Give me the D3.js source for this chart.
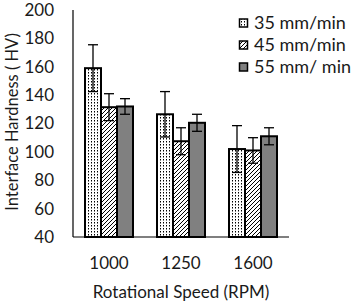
<!DOCTYPE html>
<html><head><meta charset="utf-8">
<script src="https://cdn.jsdelivr.net/npm/d3@7"></script>
<style>body{margin:0;background:#fff}svg{display:block}text{font-family:Lato,"Open Sans",sans-serif;fill:#1a1a1a}</style>
</head><body><svg id="c" width="355" height="306"></svg>
<script>
const categories = ["1000","1250","1600"];
const series = ["35 mm/min","45 mm/min","55 mm/ min"];
const values35 = [159, 126.5, 102];
const values45 = [131.5, 107.5, 101];
const values55 = [132, 120.5, 111];
const err35 = [16.5, 16, 16.5];
const err45 = [9.5, 9.5, 9];
const err55 = [5.5, 6, 6];
const yTicks = [40,60,80,100,120,140,160,180,200];

const svg = d3.select("#c");
const defs = svg.append("defs");
const p1 = defs.append("pattern").attr("id","dots").attr("patternUnits","userSpaceOnUse").attr("width",3).attr("height",3);
p1.append("rect").attr("width",3).attr("height",3).attr("fill","#fff");
p1.append("rect").attr("x",1).attr("y",0).attr("width",1).attr("height",1.5).attr("fill","#000");
const p2 = defs.append("pattern").attr("id","hatch").attr("patternUnits","userSpaceOnUse").attr("width",4).attr("height",4);
p2.append("rect").attr("width",4).attr("height",4).attr("fill","#fff");
p2.append("path").attr("d","M-1,1 L1,-1 M0,4 L4,0 M3,5 L5,3").attr("stroke","#000").attr("stroke-width",1);
const fills = ["url(#dots)","url(#hatch)","#808080"];

const y = d3.scaleLinear().domain([40,200]).range([237,10]);
const x0 = d3.scaleBand().domain(categories).range([73,289]).padding(0);
const x1 = d3.scaleBand().domain(series).range([0,x0.bandwidth()]).paddingInner(0).paddingOuter(0.75);

const vals = [values35, values45, values55];
const errs = [err35, err45, err55];
const data = [];
categories.forEach((c,i)=>series.forEach((s,j)=>data.push({c,s,j,v:vals[j][i],e:errs[j][i]})));

svg.selectAll("rect.bar").data(data).enter().append("rect").attr("class","bar")
  .attr("x",d=>x0(d.c)+x1(d.s)).attr("width",x1.bandwidth())
  .attr("y",d=>y(d.v)).attr("height",d=>y(40)-y(d.v))
  .attr("fill",d=>fills[d.j]).attr("stroke","#000").attr("stroke-width",2);

const eg = svg.append("g").attr("stroke","#000").attr("stroke-width",1.3);
data.forEach(d=>{
  const cx = x0(d.c)+x1(d.s)+x1.bandwidth()/2;
  eg.append("line").attr("x1",cx).attr("x2",cx).attr("y1",y(d.v+d.e)).attr("y2",y(d.v-d.e));
  [d.v+d.e,d.v-d.e].forEach(t=>eg.append("line").attr("x1",cx-5).attr("x2",cx+5).attr("y1",y(t)).attr("y2",y(t)));
});

// axes
svg.append("line").attr("x1",73).attr("x2",73).attr("y1",10).attr("y2",237).attr("stroke","#000").attr("stroke-width",1.2);
svg.append("line").attr("x1",73).attr("x2",289).attr("y1",237).attr("y2",237).attr("stroke","#000").attr("stroke-width",1.2);

svg.selectAll("text.yt").data(yTicks).enter().append("text").attr("class","yt")
  .attr("x",54).attr("y",d=>y(d)).attr("dy","0.35em").attr("text-anchor","end")
  .style("font-size","17px").text(d=>d);
svg.selectAll("text.xt").data(categories).enter().append("text").attr("class","xt")
  .attr("x",d=>x0(d)+x0.bandwidth()/2).attr("y",269).attr("text-anchor","middle")
  .style("font-size","17px").text(d=>d);
svg.append("text").attr("x",181).attr("y",298).attr("text-anchor","middle").style("font-size","17px").text("Rotational Speed (RPM)");
svg.append("text").attr("transform","translate(12,122) rotate(-90)").attr("dy","0.35em").attr("text-anchor","middle").style("font-size","16.5px").text("Interface Hardness ( HV)");

// legend
const lg = svg.append("g");
series.forEach((s,j)=>{
  const cy = 23 + j*22;
  lg.append("rect").attr("x",239.5).attr("y",cy-4).attr("width",8).attr("height",8).attr("fill",fills[j]).attr("stroke","#000").attr("stroke-width",1.5);
  lg.append("text").attr("x",254).attr("y",cy).attr("dy","0.35em").style("font-size","18px").text(s);
});
</script></body></html>
